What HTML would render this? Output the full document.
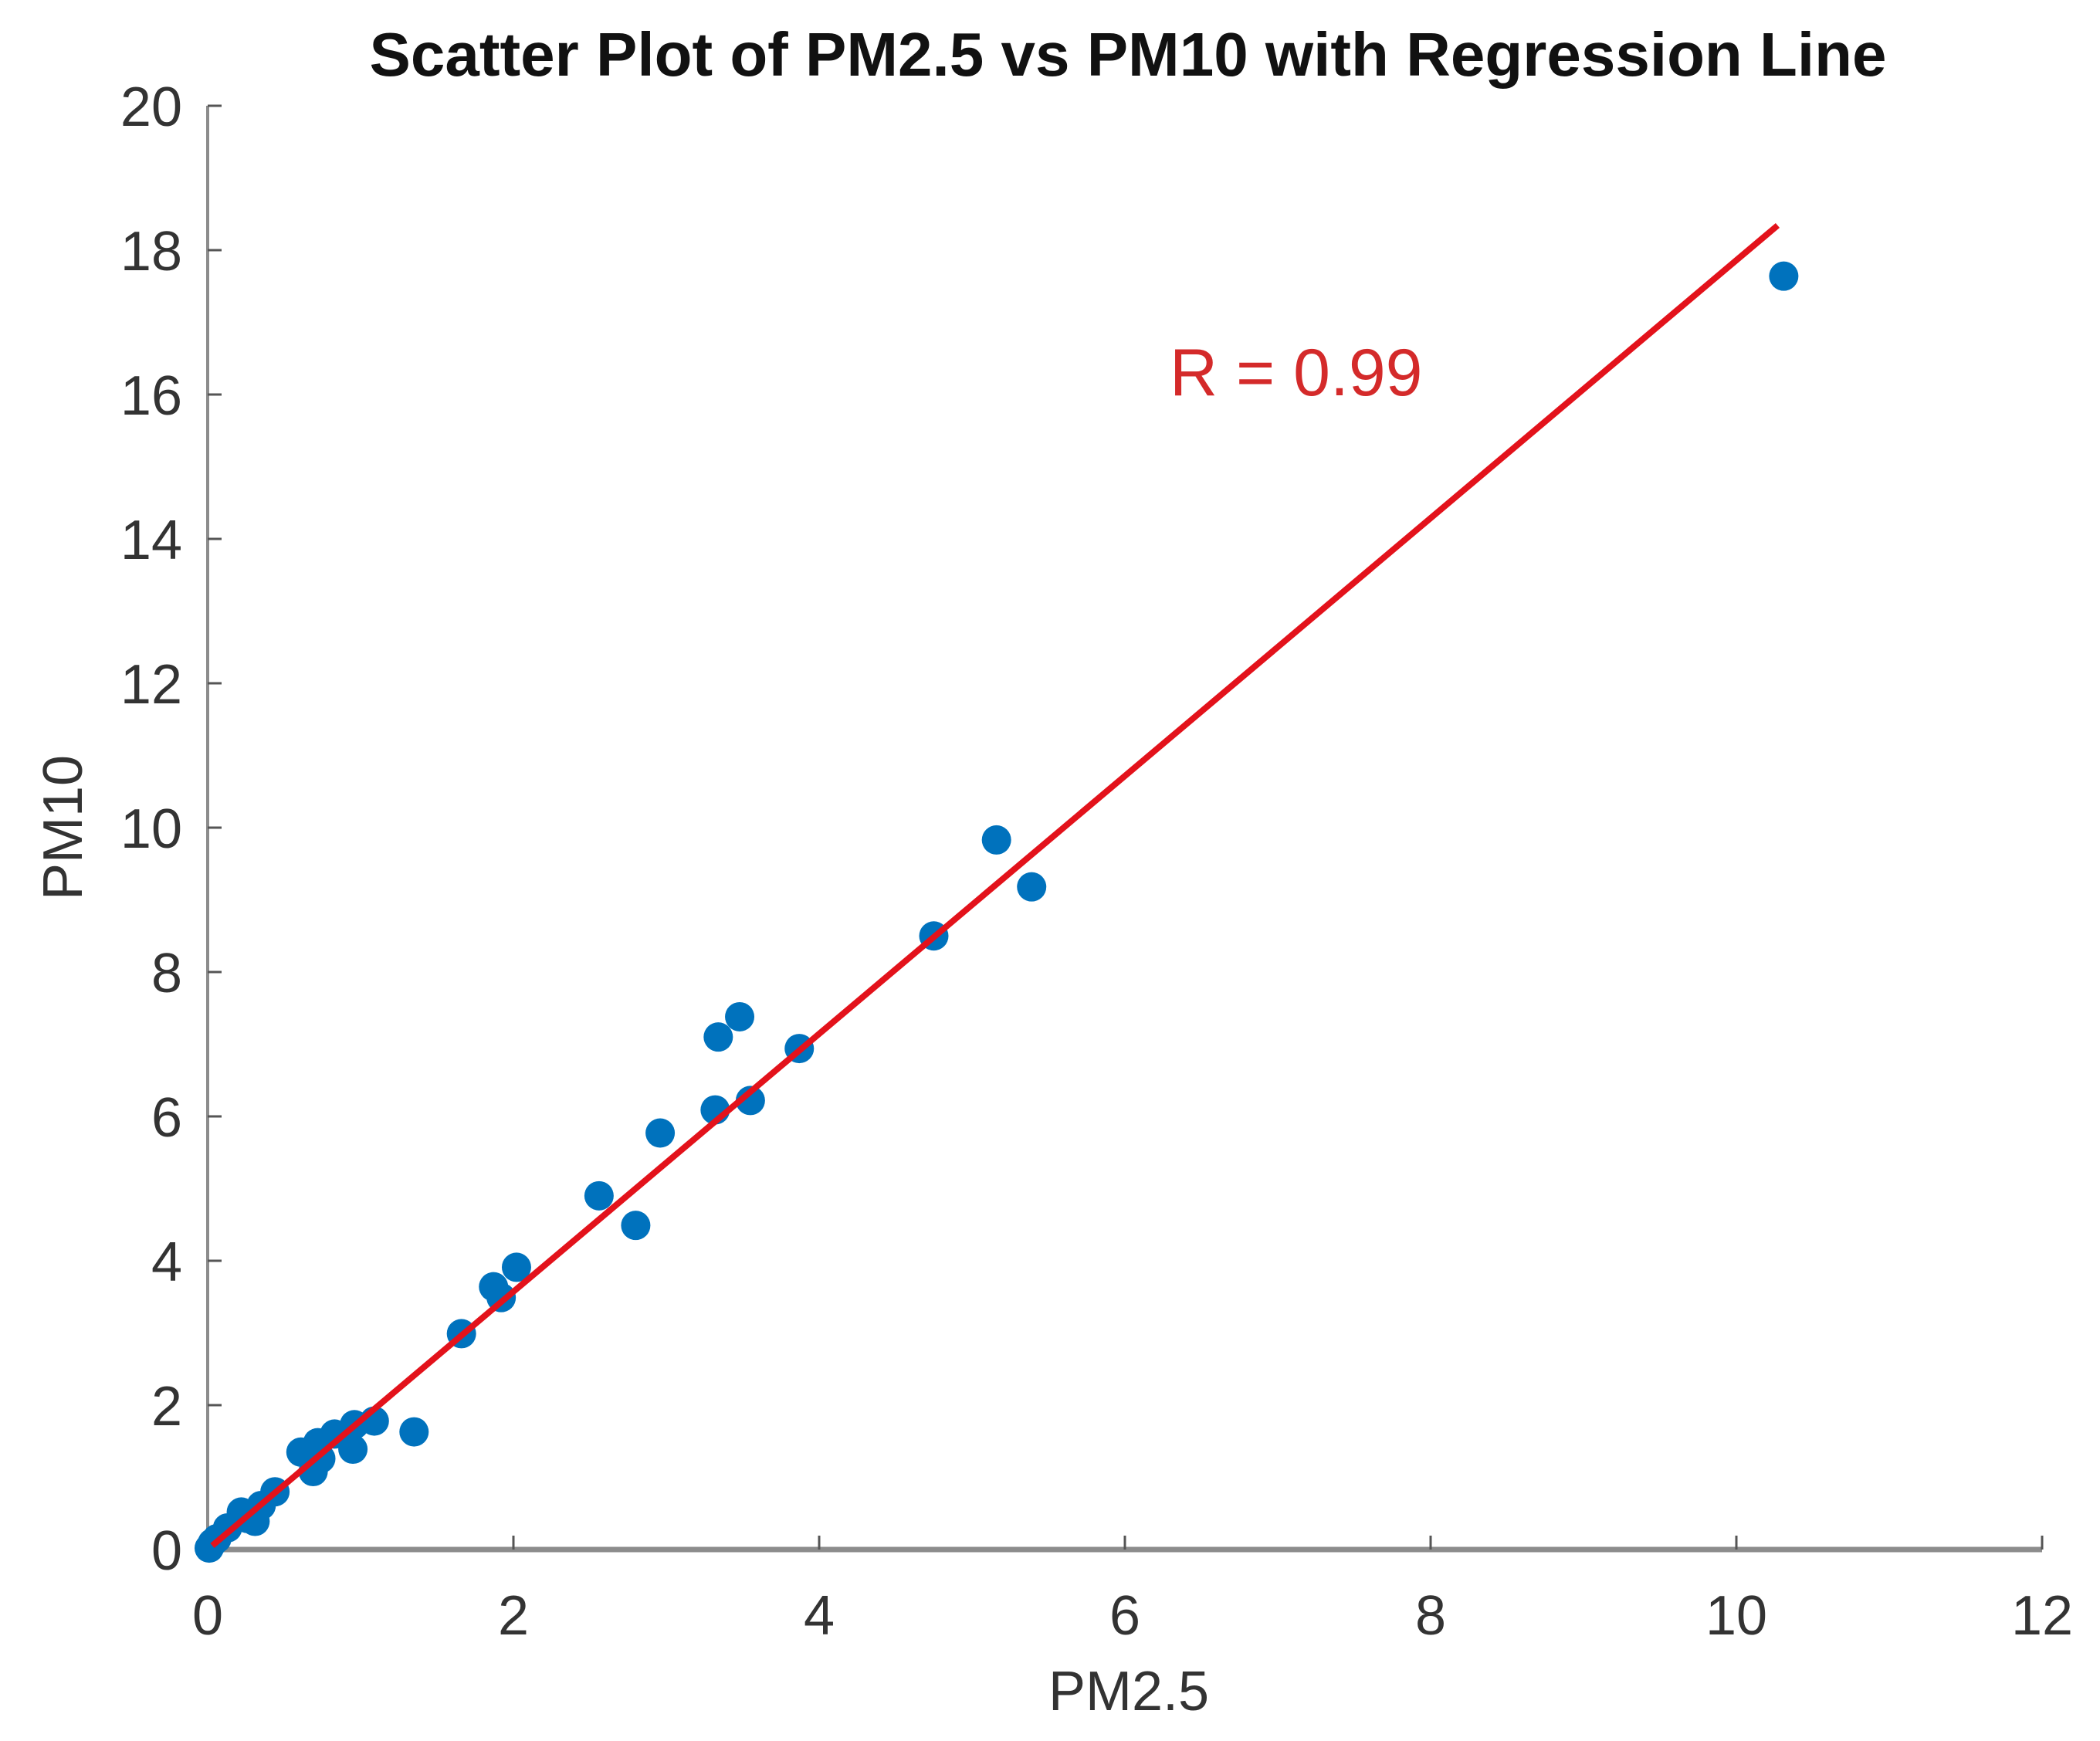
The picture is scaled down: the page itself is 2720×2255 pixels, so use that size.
<!DOCTYPE html>
<html><head><meta charset="utf-8"><style>
html,body{margin:0;padding:0;background:#fff;}
svg{display:block;font-family:"Liberation Sans",Arial,sans-serif;}
</style></head><body>
<svg id="chart" width="2720" height="2255" viewBox="0 0 2720 2255" xmlns="http://www.w3.org/2000/svg">
<rect width="2720" height="2255" fill="#fff"/>
<text x="1461" y="98" text-anchor="middle" font-size="80" font-weight="bold" fill="#111">Scatter Plot of PM2.5 vs PM10 with Regression Line</text>
<g id="axes"></g>
<g id="marks"></g>
<text x="1462" y="2215" text-anchor="middle" font-size="72" fill="#333">PM2.5</text>
<text x="0" y="0" transform="translate(106,1072) rotate(-90)" text-anchor="middle" font-size="72" fill="#333">PM10</text>
<text x="1515" y="512" font-size="86" fill="#d42a2a">R = 0.99</text>
</svg>
<script>
const pm25 = [10.31,5.16,5.39,4.75,3.48,3.34,3.87,3.32,3.55,2.96,2.56,2.80,2.02,1.92,1.87,1.66,1.35,1.09,0.95,0.96,0.83,0.72,0.69,0.74,0.61,0.44,0.35,0.26,0.22,0.13,0.06,0.01,0.03,0.31];
const pm10 = [17.64,9.83,9.18,8.50,7.38,7.10,6.94,6.09,6.22,5.77,4.90,4.49,3.91,3.49,3.64,2.99,1.63,1.78,1.39,1.73,1.60,1.48,1.08,1.26,1.35,0.80,0.61,0.43,0.52,0.30,0.15,0.02,0.09,0.39];
const xTicks = [0,2,4,6,8,10,12];
const yTicks = [0,2,4,6,8,10,12,14,16,18,20];
const regX = [0.03,10.27];
const regSlope = [1.786];
const regIntercept = [0.0];

const NS="http://www.w3.org/2000/svg";
const L=269,R=2645,T=137,B=2007;
function xs(v){return L+(v-0)/(12-0)*(R-L);}
function ys(v){return B-(v-0)/(20-0)*(B-T);}
function mk(tag,attrs,parent){const e=document.createElementNS(NS,tag);for(const k in attrs)e.setAttribute(k,attrs[k]);parent.appendChild(e);return e;}
const axes=document.getElementById('axes');
const marks=document.getElementById('marks');

let ax=mk('line',{x1:L,y1:B,x2:R,y2:B,stroke:'#8c8c8c','stroke-width':7},axes);


let ay=mk('line',{x1:L,y1:B,x2:L,y2:T,stroke:'#8c8c8c','stroke-width':4},axes);



xTicks.forEach(t=>{
  const tk=mk('line',{x1:xs(t),y1:B,x2:xs(t),y2:B-18,stroke:'#555','stroke-width':3},axes);
  
  
  const lb=mk('text',{x:xs(t),y:B+110,'text-anchor':'middle','font-size':72,fill:'#333'},axes);
  lb.textContent=t;
  
  
});
yTicks.forEach(t=>{
  const tk=mk('line',{x1:L,y1:ys(t),x2:L+18,y2:ys(t),stroke:'#555','stroke-width':3},axes);
  
  
  const lb=mk('text',{x:236,y:ys(t)+26,'text-anchor':'end','font-size':72,fill:'#333'},axes);
  lb.textContent=t;
  
  
});

pm25.forEach((v,i)=>{
  const c=mk('circle',{cx:xs(v),cy:ys(pm10[i]),r:19,fill:'#0072BD'},marks);
  
  
});
const ln=mk('line',{x1:xs(regX[0]),y1:ys(regIntercept[0]+regSlope[0]*regX[0]),x2:xs(regX[1]),y2:ys(regIntercept[0]+regSlope[0]*regX[1]),stroke:'#e3121b','stroke-width':8},marks);


</script>
</body></html>
